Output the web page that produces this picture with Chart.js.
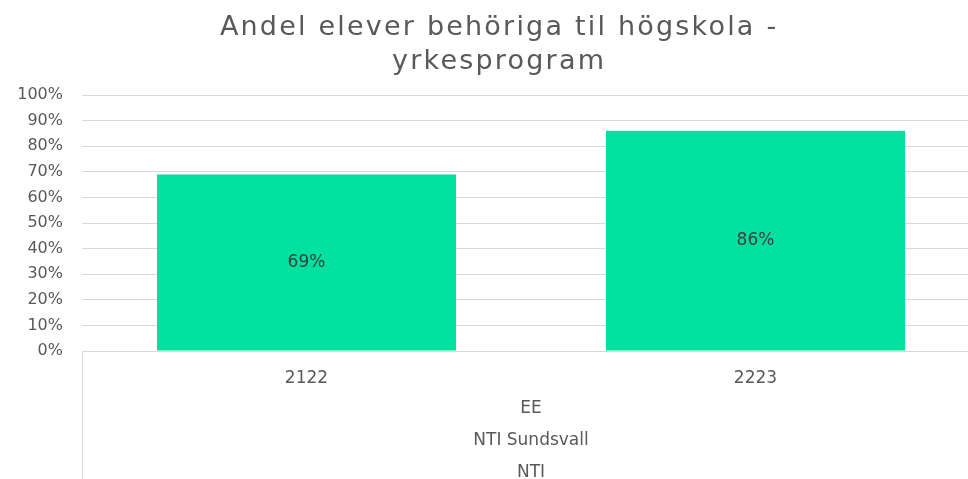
<!DOCTYPE html>
<html>
<head>
<meta charset="utf-8">
<script src="https://cdn.jsdelivr.net/npm/chart.js@4"></script>
<style>
  html, body { margin: 0; padding: 0; background: #fff; overflow: hidden; }
  #wrap { width: 968px; height: 479px; overflow: hidden; position: relative; }
  #c { position: absolute; left: 0; top: 0; }
</style>
</head>
<body>
<div id="wrap"><canvas id="c" width="980" height="479"></canvas></div>
<script>
const categories = ['2122', '2223'];
const values = [69, 86];
const groupLabels = ['EE', 'NTI Sundsvall', 'NTI'];
const yTicks = [0, 10, 20, 30, 40, 50, 60, 70, 80, 90, 100];
const titleLines = ['Andel elever behöriga til högskola -', 'yrkesprogram'];

const FONT = "'DejaVu Sans', sans-serif";
const TITLE_CENTER = 498;
const GROUP_CENTER = 531;

const extras = {
  id: 'extras',
  afterDatasetsDraw(chart) {
    const ctx = chart.ctx;
    const meta = chart.getDatasetMeta(0);
    ctx.save();
    ctx.font = '17px ' + FONT;
    ctx.fillStyle = '#404040';
    ctx.textAlign = 'center';
    ctx.textBaseline = 'middle';
    meta.data.forEach((bar, i) => {
      const p = bar.getProps(['x', 'y', 'base'], true);
      ctx.fillText(values[i] + '%', p.x, (p.y + p.base) / 2);
    });
    ctx.restore();
  },
  afterDraw(chart) {
    const ctx = chart.ctx;
    const ca = chart.chartArea;
    ctx.save();
    ctx.strokeStyle = '#d9d9d9';
    ctx.lineWidth = 1;
    ctx.beginPath();
    ctx.moveTo(ca.left + 0.5, ca.bottom);
    ctx.lineTo(ca.left + 0.5, chart.height);
    ctx.stroke();
    ctx.font = '17px ' + FONT;
    ctx.fillStyle = '#595959';
    ctx.textAlign = 'center';
    ctx.textBaseline = 'middle';
    groupLabels.forEach((t, i) => {
      ctx.fillText(t, GROUP_CENTER, ca.bottom + 57.5 + i * 32);
    });
    ctx.restore();
  }
};

const titleStyle = {
  id: 'titleStyle',
  beforeDraw(chart) {
    const t = chart.titleBlock;
    if (!t) return;
    t.left = 0; t.right = TITLE_CENTER * 2; t.width = TITLE_CENTER * 2;
    if (!t._spaced) {
      const orig = t.draw.bind(t);
      t.draw = function () {
        const ctx = chart.ctx;
        ctx.save();
        ctx.letterSpacing = '2.2px';
        ctx.translate(1.1, 0);
        orig();
        ctx.restore();
      };
      t._spaced = true;
    }
  }
};

new Chart(document.getElementById('c'), {
  type: 'bar',
  data: {
    labels: categories,
    datasets: [{
      data: values,
      backgroundColor: '#00E09F',
      borderWidth: 0,
      barPercentage: 0.666,
      categoryPercentage: 1.0
    }]
  },
  options: {
    responsive: false,
    animation: false,
    devicePixelRatio: 1,
    layout: { padding: { left: 0, right: 0, top: 0, bottom: 0 } },
    plugins: {
      legend: { display: false },
      tooltip: { enabled: false },
      title: {
        display: true,
        text: titleLines,
        color: '#595959',
        font: { family: FONT, size: 27, weight: 'normal', lineHeight: 1.26 },
        padding: { top: 11, bottom: 16 }
      }
    },
    scales: {
      x: {
        grid: { display: false },
        border: { display: true, color: '#d9d9d9' },
        ticks: {
          color: '#595959',
          font: { family: FONT, size: 17 },
          padding: 9
        },
        afterFit(scale) { scale.height = 128; }
      },
      y: {
        min: 0,
        max: 100,
        afterBuildTicks(scale) { scale.ticks = yTicks.map(v => ({ value: v })); },
        grid: { color: '#d9d9d9', lineWidth: 1, drawTicks: false },
        border: { display: false },
        ticks: {
          color: '#595959',
          font: { family: FONT, size: 16 },
          padding: 19,
          callback: v => v + '%'
        },
        afterFit(scale) { scale.width = 82; }
      }
    }
  },
  plugins: [extras, titleStyle]
});
</script>
</body>
</html>
